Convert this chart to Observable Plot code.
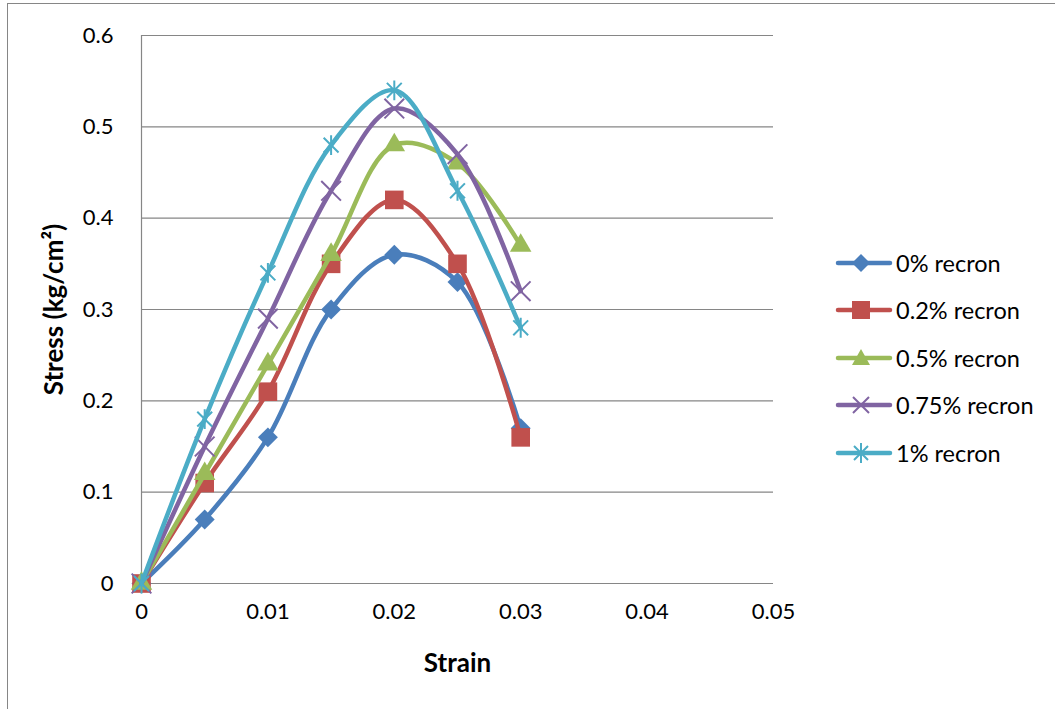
<!DOCTYPE html>
<html>
<head>
<meta charset="utf-8">
<script src="https://cdn.jsdelivr.net/npm/d3@7"></script>
<script src="https://cdn.jsdelivr.net/npm/@observablehq/plot@0.6"></script>
<style>
  html, body { margin: 0; padding: 0; background: #fff; }
  #wrap { position: relative; width: 1055px; height: 709px; overflow: hidden; font-family: Lato, "Open Sans", sans-serif; }
  #frame { position: absolute; left: 7px; top: 3px; width: 1060px; height: 720px; border: 1px solid #868686; box-sizing: border-box; }
  #chart { position: absolute; left: 0; top: 0; }
  #chart g[aria-label="x-axis label"] text, #chart g[aria-label="y-axis label"] text { font-weight: bold; font-size: 26px; }
  #legend { position: absolute; left: 833px; top: 239px; }
  .item { display: flex; align-items: center; height: 47.5px; font-size: 23.5px; color: #000; }
  .item svg { margin-right: 3px; }
</style>
</head>
<body>
<div id="wrap">
  <div id="frame"></div>
  <div id="chart"></div>
  <div id="legend"></div>
</div>
<script>
const strain = [0, 0.005, 0.01, 0.015, 0.02, 0.025, 0.03];
const stress0 = [0, 0.07, 0.16, 0.30, 0.36, 0.33, 0.17];
const stress02 = [0, 0.11, 0.21, 0.35, 0.42, 0.35, 0.16];
const stress05 = [0, 0.12, 0.24, 0.36, 0.48, 0.46, 0.37];
const stress075 = [0, 0.15, 0.29, 0.43, 0.52, 0.47, 0.32];
const stress1 = [0, 0.18, 0.34, 0.48, 0.54, 0.43, 0.28];
const seriesNames = ["0% recron", "0.2% recron", "0.5% recron", "0.75% recron", "1% recron"];
const seriesValues = [stress0, stress02, stress05, stress075, stress1];
const colors = ["#4A7EBB", "#C0504D", "#9BBB59", "#8064A2", "#4BACC6"];
const xTicks = [0, 0.01, 0.02, 0.03, 0.04, 0.05];
const yTicks = [0, 0.1, 0.2, 0.3, 0.4, 0.5, 0.6];
const xLabel = "Strain";
const yLabel = "Stress (kg/cm²)";

const rows = seriesNames.map((name, i) => strain.map((x, j) => ({series: name, x, y: seriesValues[i][j]})));

const diamondFill = {
  draw(context, size) {
    const r = Math.sqrt(size) / 1.6;
    context.moveTo(0, -r); context.lineTo(r, 0); context.lineTo(0, r); context.lineTo(-r, 0); context.closePath();
  }
};
const star = {
  draw(context, size) {
    const r = Math.sqrt(size) / 1.7;
    const d = r * 0.75;
    context.moveTo(-d, -d); context.lineTo(d, d);
    context.moveTo(d, -d); context.lineTo(-d, d);
    context.moveTo(0, -r); context.lineTo(0, r);
  }
};

function seriesMarks(i) {
  const data = rows[i];
  const marks = [
    Plot.line(data, {x: "x", y: "y", stroke: colors[i], strokeWidth: 4.5, curve: "catmull-rom", strokeLinejoin: "round", strokeLinecap: "round"})
  ];
  if (i === 0) marks.push(Plot.dot(data, {x: "x", y: "y", symbol: () => diamondFill, fill: colors[i], r: 9}));
  if (i === 1) marks.push(Plot.dot(data, {x: "x", y: "y", symbol: "square", fill: colors[i], r: 10.5}));
  if (i === 2) marks.push(Plot.dot(data, {x: "x", y: "y", symbol: "triangle", fill: colors[i], r: 8}));
  if (i === 3) marks.push(Plot.dot(data, {x: "x", y: "y", symbol: "times", stroke: colors[i], strokeWidth: 2, r: 9}));
  if (i === 4) marks.push(Plot.dot(data, {x: "x", y: "y", symbol: () => star, stroke: colors[i], strokeWidth: 2, r: 9.5}));
  return marks;
}

const chart = Plot.plot({
  width: 795,
  height: 705,
  marginLeft: 141,
  marginTop: 35,
  marginRight: 22,
  marginBottom: 122,
  style: {fontFamily: "Lato, 'Open Sans', sans-serif", fontSize: "22px", color: "#000", background: "transparent", overflow: "visible"},
  x: {domain: [0, 0.05]},
  y: {domain: [0, 0.6]},
  marks: [
    Plot.gridY(yTicks, {stroke: "#868686", strokeOpacity: 1, strokeWidth: 1.2}),
    Plot.ruleX([0], {stroke: "#868686", strokeWidth: 1.2}),
    Plot.axisY(yTicks, {tickSize: 0, tickPadding: 28, label: yLabel, labelAnchor: "center", labelArrow: "none", labelOffset: 97, tickFormat: d => String(d)}),
    Plot.axisX(xTicks, {tickSize: 0, tickPadding: 20, label: xLabel, labelAnchor: "center", labelArrow: "none", labelOffset: 88, tickFormat: d => String(d)}),
    ...seriesNames.flatMap((_, i) => seriesMarks(i))
  ]
});
document.getElementById("chart").appendChild(chart);

const legend = document.getElementById("legend");
const legendSym = [
  '<path d="M28 7 L37 16 L28 25 L19 16 Z" fill="COL"/>',
  '<rect x="19" y="7" width="18" height="18" fill="COL"/>',
  '<path d="M28 7 L37 23 L19 23 Z" fill="COL"/>',
  '<path d="M20 8 L36 24 M36 8 L20 24" stroke="COL" stroke-width="2"/>',
  '<path d="M21 9 L35 23 M35 9 L21 23 M28 6 L28 26" stroke="COL" stroke-width="2"/>'
];
seriesNames.forEach((name, i) => {
  const div = document.createElement("div");
  div.className = "item";
  div.innerHTML = `<svg width="60" height="32"><line x1="5" y1="16" x2="57" y2="16" stroke="${colors[i]}" stroke-width="4.5" stroke-linecap="round"/>${legendSym[i].replace(/COL/g, colors[i])}</svg><span>${name}</span>`;
  legend.appendChild(div);
});
</script>
</body>
</html>
